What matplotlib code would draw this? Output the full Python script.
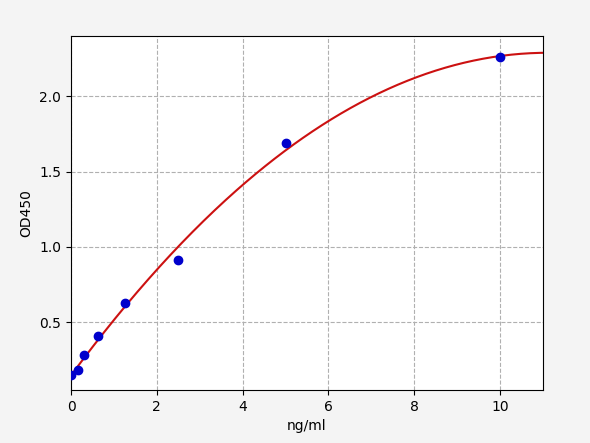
import numpy as np
import matplotlib
matplotlib.use("Agg")
import matplotlib.pyplot as plt

conc = [0, 0.156, 0.312, 0.625, 1.25, 2.5, 5, 10]
od = [0.15, 0.18, 0.28, 0.41, 0.63, 0.91, 1.69, 2.26]

fig = plt.figure(figsize=(5.9, 4.43), dpi=100, facecolor="#f4f4f4")
ax = fig.add_axes([71/590, 1-390/443, (543-71)/590, (390-36)/443])
coef = np.polyfit(conc, od, 2)
xs = np.linspace(0, 11, 300)
ax.plot(xs, np.polyval(coef, xs), color="#cc1111", lw=1.5, zorder=2)
ax.scatter(conc, od, color="#0000cc", s=36, zorder=3)
ax.set_xlim(0, 11)
ax.set_ylim(0.05, 2.4)
ax.set_xticks([0, 2, 4, 6, 8, 10])
ax.set_yticks([0.5, 1.0, 1.5, 2.0])
ax.grid(True, linestyle="--", color="#b0b0b0", lw=0.8)
ax.set_xlabel("ng/ml")
ax.set_ylabel("OD450")
fig.savefig("out.png", dpi=100, facecolor=fig.get_facecolor())
